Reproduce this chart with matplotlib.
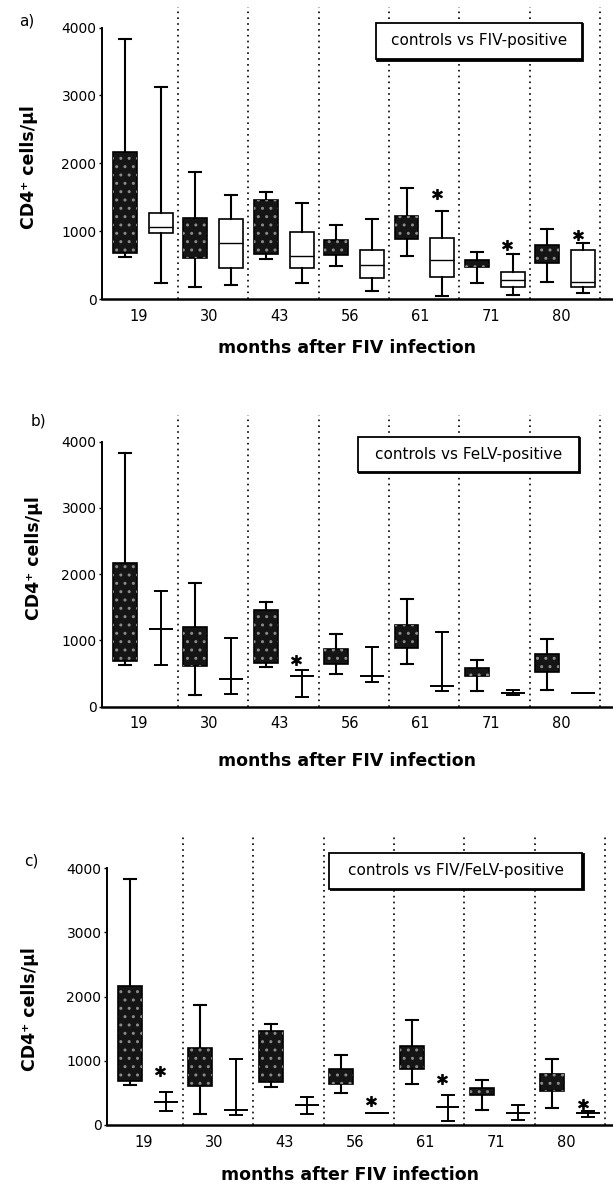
import matplotlib
matplotlib.use("Agg")
import matplotlib.pyplot as plt
from matplotlib.patches import Rectangle, PathPatch
from matplotlib.transforms import offset_copy

plt.rcParams['font.family'] = ['DejaVu Sans']

# months after infection (x categories)
MONTHS = ['19', '30', '43', '56', '61', '71', '80']

# controls (same animals in all three panels)
CTRL_LOW = [625, 171, 592, 492, 641, 238, 258]
CTRL_Q1 = [683, 611, 664, 643, 879, 465, 525]
CTRL_MED = [1325, 862, 1223, 783, 1086, 523, 666]
CTRL_Q3 = [2173, 1198, 1460, 874, 1228, 582, 789]
CTRL_HIGH = [3830, 1867, 1575, 1092, 1631, 698, 1025]

# a) FIV-positive
FIV_LOW = [231, 206, 241, 123, 44, 59, 84]
FIV_Q1 = [968, 452, 462, 314, 319, 182, 182]
FIV_MED = [1066, 820, 640, 501, 575, 280, 256]
FIV_Q3 = [1263, 1179, 993, 722, 894, 403, 722]
FIV_HIGH = [3130, 1533, 1420, 1179, 1302, 658, 820]

# b) FeLV-positive (range + median only)
FELV_LOW = [629, 196, 140, 374, 233, 172, 212]
FELV_MED = [1168, 413, 460, 466, 309, 212, 212]
FELV_HIGH = [1750, 1042, 550, 906, 1134, 248, 212]

# c) FIV/FeLV-positive (range + median only)
FF_LOW = [225, 160, 165, 180, 57, 73, 124]
FF_MED = [355, 226, 314, 180, 278, 191, 185]
FF_HIGH = [519, 1021, 432, 180, 473, 314, 216]

# significance stars: group index and height
STAR_A_GROUP = [4, 5, 6]
STAR_A_Y = [1543, 796, 943]
STAR_B_GROUP = [2]
STAR_B_Y = [705]
STAR_C_GROUP = [0, 3, 4, 6]
STAR_C_Y = [842, 379, 724, 329]

LEGEND_A = 'controls vs FIV-positive'
LEGEND_B = 'controls vs FeLV-positive'
LEGEND_C = 'controls vs FIV/FeLV-positive'


def make_stats(low, q1, med, q3, high):
	return [dict(whislo=lo, q1=a, med=m, q3=b, whishi=hi, fliers=[])
			for lo, a, m, b, hi in zip(low, q1, med, q3, high)]


def draw_panel(ax, other, boxed, stars_g, stars_y, legend, leg_box, ytop, xright):
	n = len(MONTHS)
	xs = list(range(n))
	ctrl = make_stats(CTRL_LOW, CTRL_Q1, CTRL_MED, CTRL_Q3, CTRL_HIGH)
	res = ax.bxp(ctrl, positions=[x - 0.2 for x in xs], widths=0.34,
				 patch_artist=True, showfliers=False, manage_ticks=False,
				 boxprops=dict(facecolor='#151515', edgecolor='black', linewidth=1.2),
				 whiskerprops=dict(color='black', linewidth=1.5),
				 capprops=dict(color='black', linewidth=1.5),
				 medianprops=dict(color='#151515', linewidth=1))
	# speckled texture of the control boxes
	for box in res['boxes']:
		ax.add_patch(PathPatch(box.get_path(), facecolor='none', edgecolor='#8a8a8a',
							   hatch='..', linewidth=0, zorder=box.get_zorder() + 0.1))
	if boxed:
		ax.bxp(other, positions=[x + 0.31 for x in xs], widths=0.34,
			   patch_artist=True, showfliers=False, manage_ticks=False,
			   boxprops=dict(facecolor='white', edgecolor='black', linewidth=1.2),
			   whiskerprops=dict(color='black', linewidth=1.5),
			   capprops=dict(color='black', linewidth=1.5),
			   medianprops=dict(color='black', linewidth=1))
	else:
		ax.bxp(other, positions=[x + 0.31 for x in xs], widths=0.34,
			   showbox=False, showfliers=False, manage_ticks=False,
			   whiskerprops=dict(color='black', linewidth=1.4),
			   capprops=dict(color='black', linewidth=1.4),
			   medianprops=dict(color='black', linewidth=1.4))

	for g, y in zip(stars_g, stars_y):
		ax.plot(g + 0.23, y, marker='$*$', markersize=7, color='black', zorder=4)

	for x in xs:
		ax.axvline(x + 0.55, color='black', linestyle=(0, (1, 2.5)), linewidth=1.2, zorder=1)

	x0, x1, y0, y1 = leg_box
	shadow_tr = offset_copy(ax.transData, fig=ax.figure, x=1.5, y=-1.5, units='dots')
	ax.add_patch(Rectangle((x0, y0), x1 - x0, y1 - y0, facecolor='black', edgecolor='black',
						   linewidth=1.3, zorder=5.5, transform=shadow_tr))
	ax.add_patch(Rectangle((x0, y0), x1 - x0, y1 - y0, facecolor='white', edgecolor='black',
						   linewidth=1.3, zorder=6))
	ax.text((x0 + x1) / 2, (y0 + y1) / 2, legend, ha='center', va='center',
			fontsize=11, zorder=7)

	ax.set_xlim(-0.526, xright)
	ax.set_ylim(0, ytop)
	ax.set_xticks(xs)
	ax.set_xticklabels(MONTHS)
	ax.set_yticks([0, 1000, 2000, 3000, 4000])
	ax.tick_params(axis='x', length=0, pad=7, labelsize=10.5)
	ax.tick_params(axis='y', length=2, width=1, pad=2, labelsize=10)
	for s in ['top', 'right']:
		ax.spines[s].set_visible(False)
	ax.spines['left'].set_bounds(0, 4000)
	ax.spines['left'].set_linewidth(1.4)
	ax.spines['bottom'].set_linewidth(1.8)
	ax.set_ylabel('CD4⁺ cells/µl', fontsize=12.5, fontweight='bold')
	ax.set_xlabel('months after FIV infection', fontsize=12.5, fontweight='bold')


fig = plt.figure(figsize=(6.13, 11.83), dpi=100)
ax_a = fig.add_axes([0.1664, 0.74725, 0.8336, 0.24658])
ax_b = fig.add_axes([0.1664, 0.40262, 0.8336, 0.24658])
ax_c = fig.add_axes([0.17455, 0.04903, 0.82545, 0.24514])

draw_panel(ax_a, make_stats(FIV_LOW, FIV_Q1, FIV_MED, FIV_Q3, FIV_HIGH), True,
		   STAR_A_GROUP, STAR_A_Y, LEGEND_A, (3.36, 6.29, 3534, 4073), 4300, 6.733)
draw_panel(ax_b, make_stats(FELV_LOW, FELV_MED, FELV_MED, FELV_MED, FELV_HIGH), False,
		   STAR_B_GROUP, STAR_B_Y, LEGEND_B, (3.11, 6.25, 3547, 4075), 4403, 6.733)
draw_panel(ax_c, make_stats(FF_LOW, FF_MED, FF_MED, FF_MED, FF_HIGH), False,
		   STAR_C_GROUP, STAR_C_Y, LEGEND_C, (2.63, 6.22, 3677, 4238), 4518, 6.66)

ax_a.yaxis.set_label_coords(-0.125, 0.454)
ax_b.yaxis.set_label_coords(-0.115, 0.51)
ax_c.yaxis.set_label_coords(-0.134, 0.40)
ax_a.xaxis.set_label_coords(0.48, -0.137)
ax_b.xaxis.set_label_coords(0.48, -0.155)
ax_c.xaxis.set_label_coords(0.48, -0.14)

fig.text(27 / 613, 1 - 21.5 / 1183, 'a)', fontsize=11, ha='center', va='center')
fig.text(38 / 613, 1 - 421 / 1183, 'b)', fontsize=11, ha='center', va='center')
fig.text(31 / 613, 1 - 861 / 1183, 'c)', fontsize=11, ha='center', va='center')

fig.savefig('out.png', dpi=100)
